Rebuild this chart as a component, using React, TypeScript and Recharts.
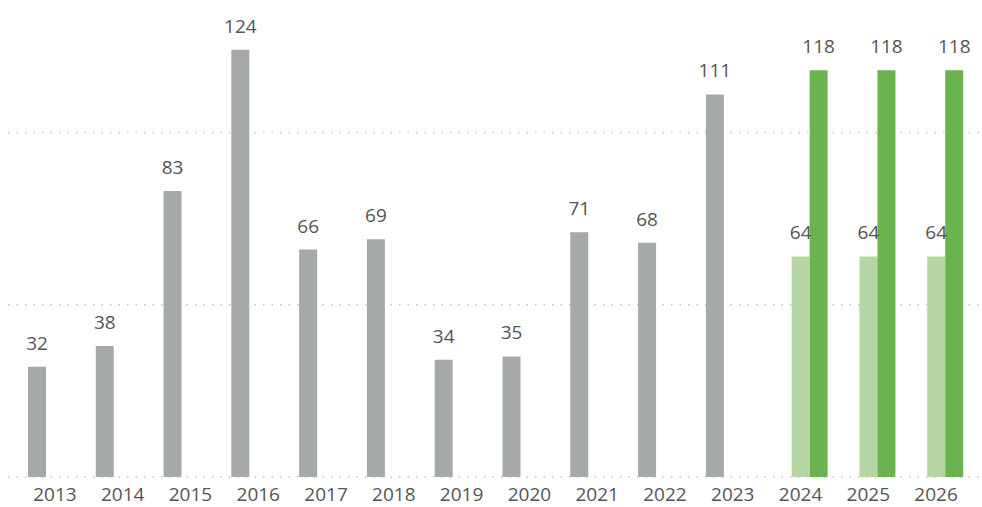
import React from "react";
import { Bar, BarChart, CartesianGrid, LabelList, XAxis, YAxis } from "recharts";

const years = ["2013", "2014", "2015", "2016", "2017", "2018", "2019", "2020", "2021", "2022", "2023", "2024", "2025", "2026"];
const actual = [32, 38, 83, 124, 66, 69, 34, 35, 71, 68, 111, null, null, null];
const forecastLow = [null, null, null, null, null, null, null, null, null, null, null, 64, 64, 64];
const forecastHigh = [null, null, null, null, null, null, null, null, null, null, null, 118, 118, 118];
const gridTicks = [0, 50, 100];
const Y_MAX = 130;

const data = years.map((year, i) => ({
  year,
  actual: actual[i],
  low: forecastLow[i],
  high: forecastHigh[i],
}));

const FONT = "'Segoe UI', 'Open Sans', sans-serif";
const TEXT = "#555555";
const labelStyle = { fill: TEXT, fontSize: 19, fontFamily: FONT };

// grid only at the value ticks, not at the top edge of the plot
const gridRows = ({ yAxis, offset }: any) =>
  gridTicks.map((t) => {
    const s = yAxis?.scale;
    if (typeof s === "function") return s(t);
    if (s && typeof s.map === "function") return s.map(t);
    return offset.top + offset.height * (1 - t / Y_MAX);
  });

export default function App() {
  return (
    <div style={{ position: "absolute", left: 0, top: 0, background: "#fff" }}>
      <BarChart
        width={982}
        height={507}
        data={data}
        margin={{ top: 29, right: 0, bottom: 0, left: 8 }}
        barGap={0}
        barSize={18}
      >
        <CartesianGrid
          vertical={false}
          stroke="#c4c4c4"
          strokeWidth={1.5}
          strokeDasharray="1.5 7"
          horizontalCoordinatesGenerator={gridRows}
        />
        <XAxis
          dataKey="year"
          axisLine={false}
          tickLine={false}
          padding={{ left: 13, right: 12 }}
          height={30}
          tick={{ fill: TEXT, fontSize: 19, fontFamily: FONT }}
          dy={3}
        />
        <YAxis hide domain={[0, Y_MAX]} ticks={gridTicks} />
        <Bar dataKey="actual" fill="#a6a9a9" isAnimationActive={false}>
          <LabelList dataKey="actual" position="top" offset={17} style={labelStyle} />
        </Bar>
        <Bar dataKey="low" fill="#b6d5a4" isAnimationActive={false}>
          <LabelList dataKey="low" position="top" offset={17} style={labelStyle} />
        </Bar>
        <Bar dataKey="high" fill="#6bb34e" isAnimationActive={false}>
          <LabelList dataKey="high" position="top" offset={17} style={labelStyle} />
        </Bar>
      </BarChart>
    </div>
  );
}
